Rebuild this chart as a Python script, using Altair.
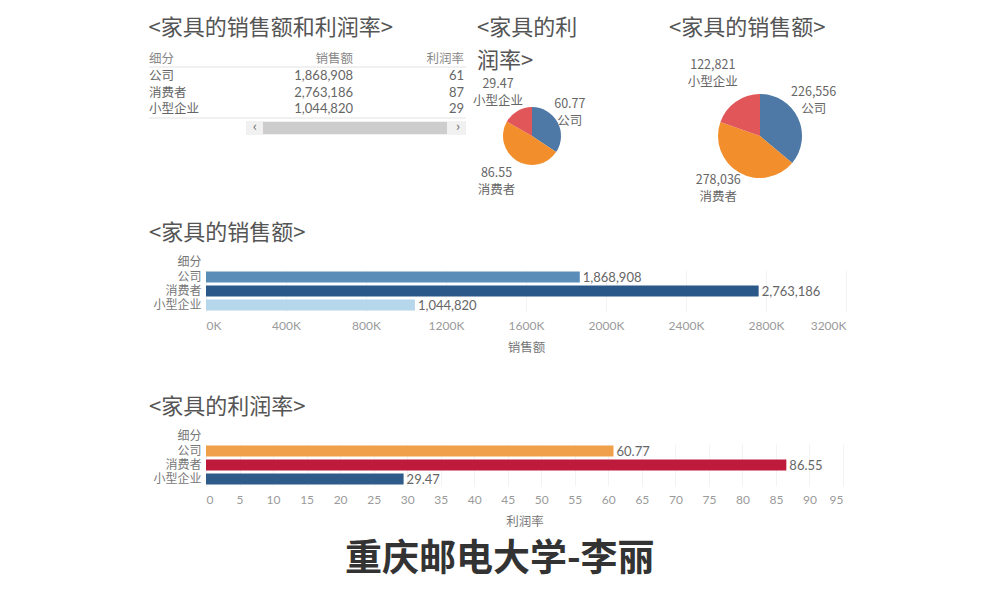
import altair as alt
import pandas as pd

# ---- data ----
segments = ["公司", "消费者", "小型企业"]
sales = [1868908, 2763186, 1044820]
profit_rate = [60.77, 86.55, 29.47]
pie_sales = [226556, 278036, 122821]

seg_colors_pie = ["#4e79a7", "#f28e2b", "#e15759"]
sales_bar_colors = ["#5b8db9", "#2a5888", "#b6d6ec"]
profit_bar_colors = ["#f0a04b", "#be1a3c", "#2e5b8a"]

FONT = "Noto Sans CJK SC"
TITLE_COLOR = "#555555"
TEXT_COLOR = "#666666"
TITLE_SIZE = 22

df = pd.DataFrame({
    "细分": segments,
    "销售额": sales,
    "利润率": profit_rate,
    "pie_sales": pie_sales,
    "idx": list(range(len(segments))),
})
df["pie1_label"] = [f"{v:.2f}\n{s}" for v, s in zip(profit_rate, segments)]
df["pie2_label"] = [f"{v:,}\n{s}" for v, s in zip(pie_sales, segments)]

seg_sort = segments

# ---------------- table ----------------
X0 = -57  # table starts left of the shared plot origin
row_y = alt.Y("细分:N", sort=seg_sort, axis=None,
              scale=alt.Scale(type="point", domain=segments, range=[26, 59], padding=0))
base_t = alt.Chart(df)
hdr = pd.DataFrame({"h": ["细分", "销售额", "利润率"]})


def one(name):
    return alt.Chart(hdr).transform_filter(f"datum.h == '{name}'")


hdr_cat = one("细分").mark_text(
    align="left", baseline="middle", fontSize=12.5, color="#888888", font=FONT
).encode(text="h:N", x=alt.value(X0), y=alt.value(9))
hdr_sales = one("销售额").mark_text(
    align="right", baseline="middle", fontSize=12.5, color="#888888", font=FONT
).encode(text="h:N", x=alt.value(X0 + 204), y=alt.value(9))
hdr_prof = one("利润率").mark_text(
    align="right", baseline="middle", fontSize=12.5, color="#888888", font=FONT
).encode(text="h:N", x=alt.value(X0 + 315), y=alt.value(9))
line1 = one("细分").mark_rule(color="#e2e2e2", strokeWidth=1).encode(
    x=alt.value(X0), x2=alt.value(X0 + 317), y=alt.value(17))
line2 = one("细分").mark_rule(color="#e2e2e2", strokeWidth=1).encode(
    x=alt.value(X0), x2=alt.value(X0 + 317), y=alt.value(68))
track = one("细分").mark_rect(color="#f1f1f1").encode(
    x=alt.value(X0 + 97), x2=alt.value(X0 + 317), y=alt.value(71), y2=alt.value(85))
thumb = one("细分").mark_rect(color="#cdcdcd").encode(
    x=alt.value(X0 + 114), x2=alt.value(X0 + 298), y=alt.value(72), y2=alt.value(84))
arrows = pd.DataFrame({"a": ["‹", "›"], "pos": ["l", "r"]})
arr_l = alt.Chart(arrows).transform_filter("datum.pos == 'l'").mark_text(
    fontSize=13, color="#666666", baseline="middle"
).encode(text="a:N", x=alt.value(X0 + 106), y=alt.value(77))
arr_r = alt.Chart(arrows).transform_filter("datum.pos == 'r'").mark_text(
    fontSize=13, color="#666666", baseline="middle"
).encode(text="a:N", x=alt.value(X0 + 309), y=alt.value(77))

col_cat = base_t.mark_text(align="left", baseline="middle", fontSize=12.5,
                           color=TEXT_COLOR, font=FONT).encode(
    y=row_y, x=alt.value(X0), text="细分:N")
col_sales = base_t.mark_text(align="right", baseline="middle", fontSize=13,
                             color=TEXT_COLOR, font="Lato").encode(
    y=row_y, x=alt.value(X0 + 204), text=alt.Text("销售额:Q", format=","))
col_prof = base_t.mark_text(align="right", baseline="middle", fontSize=13,
                            color=TEXT_COLOR, font="Lato").encode(
    y=row_y, x=alt.value(X0 + 315), text=alt.Text("利润率:Q", format=".0f"))

table = alt.layer(line1, line2, track, thumb, arr_l, arr_r,
                  hdr_cat, hdr_sales, hdr_prof, col_cat, col_sales, col_prof).properties(
    width=189, height=80,
    title=alt.TitleParams("<家具的销售额和利润率>", anchor="start", frame="bounds",
                          fontSize=TITLE_SIZE, fontWeight="normal", color=TITLE_COLOR,
                          font=FONT, offset=10),
)

# ---------------- pies ----------------
color_scale = alt.Scale(domain=segments, range=seg_colors_pie)


def pie(field, label_field, outer, label_r, ldx, ldy, w, title, title_offset, line_h=None):
    base = alt.Chart(df).encode(
        theta=alt.Theta(f"{field}:Q", stack=True),
        order=alt.Order("idx:Q"),
    )
    arc = base.mark_arc(outerRadius=outer).encode(
        color=alt.Color("细分:N", scale=color_scale, legend=None))
    txt = base.mark_text(radius=label_r, lineBreak="\n", fontSize=12.5, dx=ldx, dy=ldy,
                         color=TEXT_COLOR, font=FONT, lineHeight=17).encode(
        text=f"{label_field}:N")
    tp = dict(anchor="start", frame="group", fontSize=TITLE_SIZE, fontWeight="normal",
              color=TITLE_COLOR, font=FONT, offset=title_offset)
    if line_h:
        tp["lineHeight"] = line_h
    return alt.layer(arc, txt).properties(width=w, height=172,
                                          title=alt.TitleParams(title, **tp))


pie1 = pie("利润率", "pie1_label", 29, 52, -8, -7, 110, ["<家具的利", "润率>"], -23, 33)
pie2 = pie("pie_sales", "pie2_label", 42, 68, -8, -15, 182, "<家具的销售额>", 10)

top_row = alt.hconcat(table, pie1, pie2, spacing=82, bounds="flush").resolve_scale(
    color="independent")

# ---------------- bar charts ----------------

def bar_chart(field, colors, title, domain, ticks, label_expr, fmt, w):
    y = alt.Y("细分:N", sort=seg_sort,
              scale=alt.Scale(domain=segments, paddingInner=0, paddingOuter=0),
              axis=alt.Axis(title="细分", titleAngle=0, titleAlign="right",
                            titleBaseline="middle", titleX=-5, titleY=-9,
                            titleFontSize=12, titleFontWeight="normal",
                            titleColor="#777777", titleFont=FONT,
                            labelFontSize=12, labelColor="#777777", labelFont=FONT,
                            labelPadding=5, ticks=False, domain=False))
    x = alt.X(f"{field}:Q",
              scale=alt.Scale(domain=domain, nice=False),
              axis=alt.Axis(title=field, values=ticks, labelExpr=label_expr,
                            labelFlush=True, labelFontSize=12, labelColor="#9a9a9a",
                            labelFont="Lato", labelPadding=8, ticks=False,
                            domain=False, grid=True, gridColor="#f3f3f3",
                            titleFontSize=12.5, titleFontWeight="normal",
                            titleColor="#777777", titleFont=FONT, titlePadding=10))
    b = alt.Chart(df).encode(y=y, x=x)
    bars = b.mark_bar(size=11).encode(
        color=alt.Color("细分:N", scale=alt.Scale(domain=segments, range=colors),
                        legend=None))
    labels = b.mark_text(align="left", baseline="middle", dx=3, dy=1, fontSize=13,
                         color="#666666", font="Lato").encode(
        text=alt.Text(f"{field}:Q", format=fmt))
    return alt.layer(bars, labels).properties(
        width=w, height=42,
        title=alt.TitleParams(title, anchor="start", fontSize=TITLE_SIZE, dx=-4,
                              fontWeight="normal", color=TITLE_COLOR, font=FONT,
                              offset=10))


sales_ticks = list(range(0, 3200001, 400000))
profit_ticks = list(range(0, 96, 5))
sales_chart = bar_chart("销售额", sales_bar_colors, "<家具的销售额>", [0, 3200000],
                        sales_ticks, "format(datum.value / 1000, 'd') + 'K'", ",", 640)
profit_chart = bar_chart("利润率", profit_bar_colors, "<家具的利润率>", [0, 95],
                         profit_ticks, "datum.label", ".2f", 637)

bars_block = alt.vconcat(sales_chart, profit_chart, spacing=42).resolve_scale(
    color="independent")

chart = alt.vconcat(top_row, bars_block, spacing=0).resolve_scale(
    color="independent").properties(
    padding={"left": 148, "top": 17, "right": 10, "bottom": 10},
    title=alt.TitleParams("重庆邮电大学-李丽", orient="bottom", anchor="middle",
                          fontSize=37, fontWeight="bold", color="#333333",
                          font=FONT, offset=14),
).configure(font=FONT).configure_view(strokeWidth=0)

chart.save("out.html", embed_options={"renderer": "svg", "actions": False})
